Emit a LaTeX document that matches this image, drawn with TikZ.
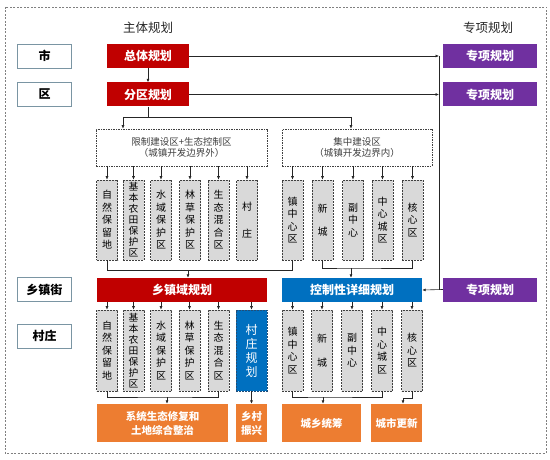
\documentclass[tikz,border=0pt]{standalone}
\usepackage{fontspec}
\setmainfont{Noto Sans CJK SC}
\usetikzlibrary{arrows.meta}
\definecolor{myred}{HTML}{C00000}
\definecolor{mypurple}{HTML}{7030A0}
\definecolor{myblue}{HTML}{0070C0}
\definecolor{myorange}{HTML}{ED7D31}
\definecolor{mygray}{HTML}{D9D9D9}
\definecolor{lblborder}{HTML}{7A95A3}
\definecolor{linec}{HTML}{262626}
\definecolor{dtext}{HTML}{404040}
\definecolor{darkblue}{HTML}{1F4E79}
\tikzset{
  lbl/.style={draw=lblborder, line width=0.8pt, fill=white, inner sep=0pt,
    minimum width=54pt, minimum height=24pt, font=\fontsize{12}{14}\selectfont\bfseries},
  solidbox/.style={inner sep=0pt, text=white, font=\fontsize{12}{14}\selectfont\bfseries},
  redbox/.style={solidbox, fill=myred},
  purplebox/.style={solidbox, fill=mypurple, minimum width=94pt, minimum height=24pt},
  bluebox/.style={solidbox, fill=myblue},
  orangebox/.style={inner sep=0pt, fill=myorange, text=white, align=center,
    minimum height=38pt, font=\fontsize{10.5}{14}\selectfont\bfseries},
  gbox/.style={draw=dtext, dash pattern=on 2pt off 1pt, line width=0.6pt, fill=mygray,
    inner sep=0pt, minimum width=21pt, align=center, text=black,
    font=\fontsize{10}{12.5}\selectfont},
  tightbox/.style={gbox, font=\fontsize{9.8}{11}\selectfont},
  dbox/.style={draw=dtext, dash pattern=on 1.5pt off 1pt, line width=0.6pt, fill=white,
    inner sep=0pt, align=center, text=dtext, font=\fontsize{9.5}{11}\selectfont},
  conn/.style={draw=linec, line width=0.6pt},
  arr/.style={conn, -{Latex[length=3.5pt,width=3pt]}},
  head/.style={text=linec, font=\fontsize{12.5}{14}\selectfont},
}
\begin{document}
\begin{tikzpicture}[x=1pt, y=-1pt]
\useasboundingbox (0,0) rectangle (550,460);
\draw[draw=gray, dash pattern=on 2pt off 1.5pt, line width=0.5pt] (5,7) rectangle (546,453);

% headers
\node[head] (h1) at (148,28) {主体规划};
\node[head] (h2) at (488,28) {专项规划};

% left level labels
\node[lbl] (l1) at (44.5,56) {市};
\node[lbl] (l2) at (44.5,94.5) {区};
\node[lbl] (l3) at (44.5,289.5) {乡镇街};
\node[lbl] (l4) at (44.5,336) {村庄};

% main plans
\node[redbox, minimum width=82pt, minimum height=24pt] (zt) at (148,56) {总体规划};
\node[redbox, minimum width=82pt, minimum height=24pt] (fq) at (148,94.5) {分区规划};
\node[purplebox] (zx1) at (490,56) {专项规划};
\node[purplebox] (zx2) at (490,94.5) {专项规划};
\node[purplebox] (zx3) at (490,289.5) {专项规划};

% dashed zone boxes
\node[dbox, minimum width=171pt, minimum height=37pt] (ld) at (181.5,147.5) {限制建设区+生态控制区\\（城镇开发边界外）};
\node[dbox, minimum width=150pt, minimum height=37pt] (rd) at (357,147.5) {集中建设区\\（城镇开发边界内）};

% row 1 small boxes
\node[gbox, minimum height=80pt] (a1) at (107,220) {自\\然\\保\\留\\地};
\node[tightbox, minimum height=80pt] (a2) at (133.5,220) {基\\本\\农\\田\\保\\护\\区};
\node[gbox, minimum height=80pt] (a3) at (161,220) {水\\域\\保\\护\\区};
\node[gbox, minimum height=80pt] (a4) at (190,220) {林\\草\\保\\护\\区};
\node[gbox, minimum height=80pt] (a5) at (218.5,220) {生\\态\\混\\合\\区};
\node[gbox, minimum height=80pt] (a6) at (247,220) {村\\[14pt]庄};
\node[gbox, minimum height=80pt] (b1) at (292.5,220) {镇\\中\\心\\区};
\node[gbox, minimum height=80pt] (b2) at (322.5,220) {新\\[11pt]城};
\node[gbox, minimum height=80pt] (b3) at (353,220) {副\\中\\心};
\node[gbox, minimum height=80pt] (b4) at (382.5,220) {中\\心\\城\\区};
\node[gbox, minimum height=80pt] (b5) at (412.5,220) {核\\心\\区};

% township / detailed plans
\node[redbox, minimum width=170pt, minimum height=24pt] (xz) at (182,290) {乡镇域规划};
\node[bluebox, minimum width=140pt, minimum height=24pt] (kz) at (352,290) {控制性详细规划};

% row 2 small boxes
\node[gbox, minimum height=81pt] (c1) at (107,350.5) {自\\然\\保\\留\\地};
\node[tightbox, minimum height=81pt] (c2) at (133.5,350.5) {基\\本\\农\\田\\保\\护\\区};
\node[gbox, minimum height=81pt] (c3) at (161,350.5) {水\\域\\保\\护\\区};
\node[gbox, minimum height=81pt] (c4) at (189.5,350.5) {林\\草\\保\\护\\区};
\node[gbox, minimum height=81pt] (c5) at (218.5,350.5) {生\\态\\混\\合\\区};
\node[inner sep=0pt, fill=myblue, draw=darkblue, dash pattern=on 2pt off 1pt, line width=0.6pt,
  minimum width=31pt, minimum height=81pt, align=center, text=white,
  font=\fontsize{12}{14}\selectfont] (cv) at (251.5,350.5) {村\\庄\\规\\划};
\node[gbox, minimum height=81pt] (d1) at (292.5,350.5) {镇\\中\\心\\区};
\node[gbox, minimum height=81pt] (d2) at (322,350.5) {新\\[11pt]城};
\node[gbox, minimum height=81pt] (d3) at (352,350.5) {副\\中\\心};
\node[gbox, minimum height=81pt] (d4) at (382,350.5) {中\\心\\城\\区};
\node[gbox, minimum height=81pt] (d5) at (412,350.5) {核\\心\\区};

% outcome boxes
\node[orangebox, minimum width=131pt] (o1) at (162.5,423) {系统生态修复和\\土地综合整治};
\node[orangebox, minimum width=31pt] (o2) at (251.5,423) {乡村\\振兴};
\node[orangebox, minimum width=79pt] (o3) at (321.5,423) {城乡统筹};
\node[orangebox, minimum width=51pt] (o4) at (396.5,423) {城市更新};

% connectors: top
\draw[arr] (zt) -- (fq);
\coordinate (jL) at (123,117);
\coordinate (jR) at (351,117);
\draw[conn] (fq.south) -- (fq.south |- jL);
\draw[conn] (jL) -- (jR);
\draw[arr] (jL) -- (jL |- ld.north);
\draw[arr] (jR) -- (jR |- rd.north);

% special plans
\coordinate (v1) at (439,56);
\coordinate (v2) at (439,94.5);
\coordinate (v3) at (439,289.5);
\draw[arr] (zt.east) -- (v1);
\draw[arr] (fq.east) -- (v2);
\draw[conn] (v1) -- (v3);
\draw[arr] (zx3.west) -- (kz.east);

% zone boxes to row 1
\foreach \n in {a1,a2,a3,a4,a5,a6} \draw[arr] (\n.north |- ld.south) -- (\n.north);
\foreach \n in {b1,b2,b3,b4,b5} \draw[arr] (\n.north |- rd.south) -- (\n.north);

% row 1 to plans
\coordinate (m1) at (188,270.5);
\draw[conn] (a1.south) |- (m1) -| (b1.south);
\draw[arr] (m1) -- (m1 |- xz.north);
\coordinate (m2) at (351,268);
\draw[conn] (b2.south) |- (m2) -| (b5.south);
\draw[arr] (m2) -- (m2 |- kz.north);

% plans to row 2
\foreach \n in {c1,c2,c3,c4,c5,cv} \draw[arr] (\n.north |- xz.south) -- (\n.north);
\foreach \n in {d1,d2,d3,d4,d5} \draw[arr] (\n.north |- kz.south) -- (\n.north);

% row 2 to outcomes
\coordinate (m3) at (167,397);
\draw[conn] (c1.south) |- (m3) -| (c5.south);
\draw[arr] (m3) -- (m3 |- o1.north);
\draw[arr] (cv.south) -- (o2.north);
\coordinate (m4) at (323,397);
\draw[conn] (d1.south) |- (m4) -| (d4.south);
\draw[arr] (m4) -- (m4 |- o3.north);
\coordinate (m5) at (403,398);
\draw[conn] (d5.south) |- (m5);
\draw[arr] (m5) -- (m5 |- o4.north);
\end{tikzpicture}
\end{document}
